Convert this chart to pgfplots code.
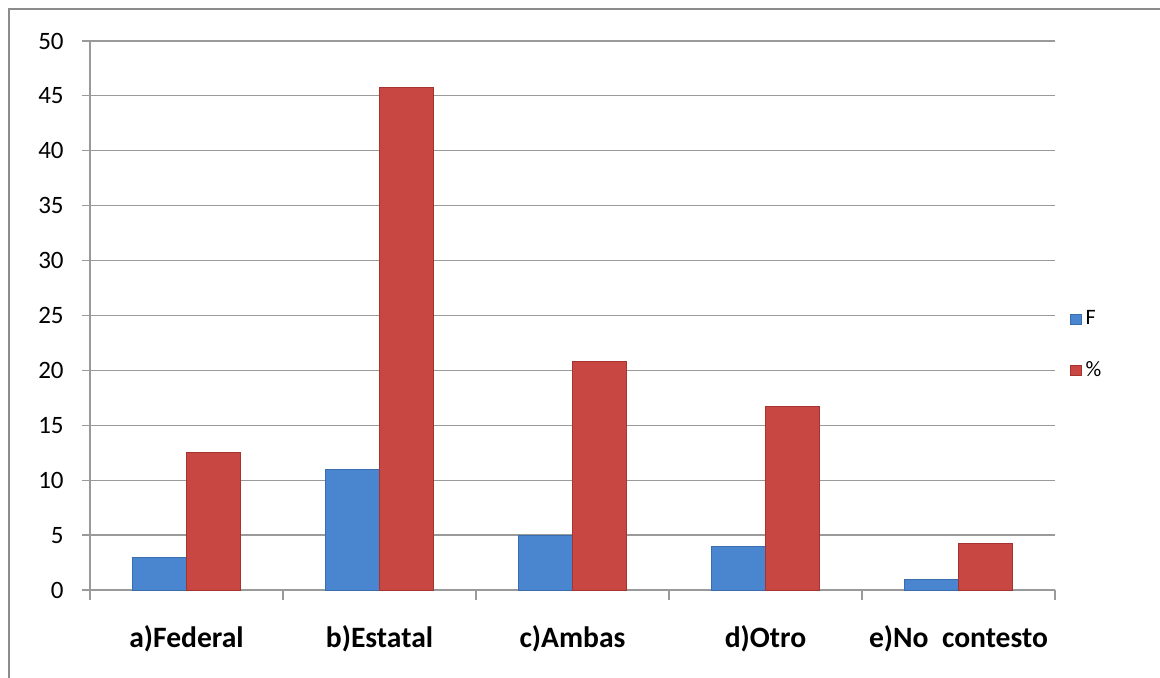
\documentclass[border=0pt]{standalone}
\usepackage{fontspec}
\setmainfont{Carlito}
\usepackage{pgfplots}
\pgfplotsset{compat=1.18}
\definecolor{fblue}{HTML}{4A86D0}
\definecolor{fblued}{HTML}{3A6DAE}
\definecolor{pred}{HTML}{C94743}
\definecolor{predd}{HTML}{A53431}
\definecolor{gridc}{HTML}{9A9A9A}
\definecolor{framec}{HTML}{8C8C8C}
\begin{document}
\begin{tikzpicture}
\useasboundingbox (0,0) rectangle (580pt,339pt);
\draw[color=framec, line width=1.2pt] (4.5pt,0) -- (4.5pt,334.5pt) -- (580pt,334.5pt);
\begin{axis}[
  at={(45pt,44pt)}, anchor=south west,
  scale only axis, width=482.5pt, height=274.5pt,
  xmin=-0.5, xmax=4.5, ymin=0, ymax=50,
  clip=false,
  ytick={0,5,...,50},
  xtick={0,1,2,3,4},
  xticklabels={a)Federal, b)Estatal, c)Ambas, d)Otro, e)No~~contesto},
  axis x line*=bottom, axis y line*=left,
  tick pos=left,
  axis line style={draw=none},
  tick align=outside,
  major tick length=4pt,
  xtick style={draw=none},
  ytick style={color=gridc, line width=0.6pt},
  /pgf/number format/assume math mode=true,
  yticklabel style={font=\fontsize{12.5}{12.5}\selectfont, anchor=east, inner sep=0pt, xshift=-9pt},
  xticklabel style={font=\bfseries\fontsize{14.8}{14.8}\selectfont, anchor=base, yshift=-25pt},
  legend style={at={(1.009,0.446)}, anchor=west, draw=none, fill=none,
    font=\fontsize{11}{11}\selectfont, row sep=13pt, cells={anchor=west}},
  legend image code/.code={\path[#1] (0pt,-2.6pt) rectangle (5.4pt,2.6pt);},
]
\foreach \yy in {5,10,...,50} {
  \edef\temp{\noexpand\draw[color=gridc, line width=0.6pt] (axis cs:-0.5,\yy) -- (axis cs:4.5,\yy);}
  \temp
}
\foreach \xx in {-0.5,0.5,1.5,2.5,3.5,4.5} {
  \edef\temp{\noexpand\draw[color=gridc, line width=0.6pt] (axis cs:\xx,0) -- ([yshift=-5pt]axis cs:\xx,0);}
  \temp
}
\draw[color=gridc, line width=0.6pt] (axis cs:-0.5,50) -- (axis cs:-0.5,0) -- (axis cs:4.5,0);
\addplot[ybar, bar width=0.28, bar shift=-0.14, fill=fblue, draw=fblued, line width=0.4pt]
  coordinates {(0,3) (1,11) (2,5) (3,4) (4,1)};
\addlegendentry{F}
\addplot[ybar, bar width=0.28, bar shift=0.14, fill=pred, draw=predd, line width=0.4pt]
  coordinates {(0,12.5) (1,45.8) (2,20.8) (3,16.7) (4,4.2)};
\addlegendentry{\%}
\end{axis}
\draw[white, line width=1pt] (527.9pt,44.6pt) -- (527.9pt,319.5pt);
\end{tikzpicture}
\end{document}
